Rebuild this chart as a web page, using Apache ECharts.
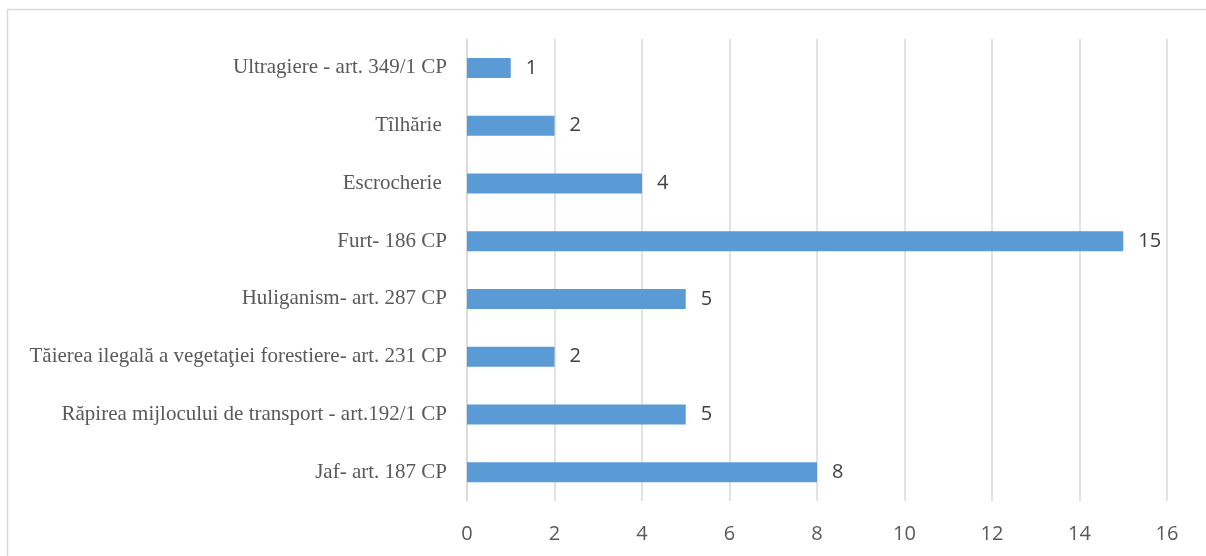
<!DOCTYPE html>
<html>
<head>
<meta charset="utf-8">
<script src="https://cdn.jsdelivr.net/npm/echarts@6/dist/echarts.min.js"></script>
<style>html,body{margin:0;padding:0;background:#fff}#c{width:1206px;height:556px}</style>
</head>
<body>
<div id="c"></div>
<script>
const categories = [
  "Jaf- art. 187 CP",
  "Răpirea mijlocului de transport - art.192/1 CP",
  "Tăierea ilegală a vegetaţiei forestiere- art. 231 CP",
  "Huliganism- art. 287 CP",
  "Furt- 186 CP",
  "Escrocherie ",
  "Tîlhărie ",
  "Ultragiere - art. 349/1 CP"
];
const values = [8, 5, 2, 5, 15, 4, 2, 1];
const xTicks = { min: 0, max: 16, interval: 2 };

const chart = echarts.init(document.getElementById('c'), null, { renderer: 'canvas' });
chart.setOption({
  animation: false,
  graphic: [{
    type: 'rect',
    shape: { x: 7.5, y: 9.5, width: 1300, height: 700 },
    style: { fill: 'none', stroke: '#d9d9d9', lineWidth: 1.5 },
    silent: true
  }],
  grid: { left: 467, right: 39, top: 39, bottom: 55, containLabel: false },
  xAxis: {
    type: 'value',
    min: xTicks.min, max: xTicks.max, interval: xTicks.interval,
    axisLine: { show: false },
    axisTick: { show: false },
    splitLine: { show: true, lineStyle: { color: '#d9d9d9', width: 1.5 } },
    axisLabel: { color: '#595959', fontSize: 20, fontFamily: 'Open Sans, Liberation Sans, sans-serif', margin: 23 }
  },
  yAxis: {
    type: 'category',
    data: categories,
    axisLine: { show: true, lineStyle: { color: '#d9d9d9', width: 1.5 } },
    axisTick: { show: false },
    splitLine: { show: false },
    axisLabel: { color: '#595959', fontSize: 21, fontFamily: 'Liberation Serif, Times New Roman, serif', margin: 20 }
  },
  series: [{
    type: 'bar',
    data: values,
    barWidth: 20,
    itemStyle: { color: '#5b9bd5' },
    label: {
      show: true, position: 'right', distance: 15,
      color: '#404040', fontSize: 20, fontFamily: 'Open Sans, Liberation Sans, sans-serif'
    }
  }]
});
</script>
</body>
</html>
